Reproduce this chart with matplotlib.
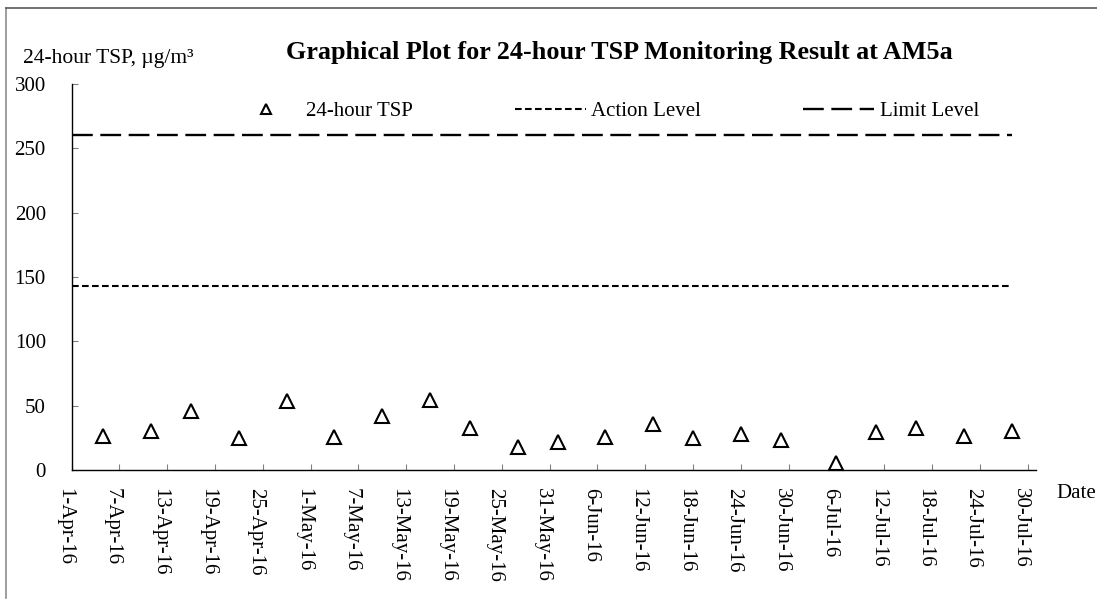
import matplotlib
matplotlib.use("Agg")
import matplotlib.pyplot as plt
from matplotlib.lines import Line2D
import matplotlib.transforms as mtransforms
import datetime as dt

# ---------------- data ----------------
sample_dates = ["2016-04-05", "2016-04-11", "2016-04-16", "2016-04-22", "2016-04-28",
                "2016-05-04", "2016-05-10", "2016-05-16", "2016-05-21", "2016-05-27",
                "2016-06-01", "2016-06-07", "2016-06-13", "2016-06-18", "2016-06-24",
                "2016-06-29", "2016-07-06", "2016-07-11", "2016-07-16", "2016-07-22",
                "2016-07-28"]
tsp_values = [26.7, 30.1, 46.2, 25.0, 53.4,
              25.8, 42.0, 54.6, 32.5, 17.6,
              21.9, 25.4, 35.9, 25.0, 28.1,
              23.4, 5.5, 29.2, 32.8, 26.4,
              30.7]
action_level = 143
limit_level = 260
level_dates = ["2016-04-01", "2016-07-28"]

tick_dates = ["2016-04-01", "2016-04-07", "2016-04-13", "2016-04-19", "2016-04-25",
              "2016-05-01", "2016-05-07", "2016-05-13", "2016-05-19", "2016-05-25",
              "2016-05-31", "2016-06-06", "2016-06-12", "2016-06-18", "2016-06-24",
              "2016-06-30", "2016-07-06", "2016-07-12", "2016-07-18", "2016-07-24",
              "2016-07-30"]
tick_labels = ["1-Apr-16", "7-Apr-16", "13-Apr-16", "19-Apr-16", "25-Apr-16",
               "1-May-16", "7-May-16", "13-May-16", "19-May-16", "25-May-16",
               "31-May-16", "6-Jun-16", "12-Jun-16", "18-Jun-16", "24-Jun-16",
               "30-Jun-16", "6-Jul-16", "12-Jul-16", "18-Jul-16", "24-Jul-16",
               "30-Jul-16"]
y_ticks = [0, 50, 100, 150, 200, 250, 300]
x_range = ["2016-04-01", "2016-07-31"]

title = "Graphical Plot for 24-hour TSP Monitoring Result at AM5a"
y_label = "24-hour TSP, \u00b5g/m\u00b3"
x_label = "Date"
legend_labels = ["24-hour TSP", "Action Level", "Limit Level"]

# ---------------- style ----------------
plt.rcParams['font.family'] = ['Liberation Serif', 'DejaVu Serif']
FS = 15

def to_d(s):
    return dt.datetime.strptime(s, "%Y-%m-%d")

fig = plt.figure(figsize=(10.97, 6.09), dpi=100)
ax = fig.add_axes([0.0652, 0.2282, 0.8788, 0.634])

xd = [to_d(s) for s in sample_dates]
ld = [to_d(s) for s in level_dates]

action_dash = (3.2, 1.6)
limit_dash = (8.8, 3.2)

ax.plot(ld, [limit_level, limit_level], color='black', lw=1.7,
        dashes=limit_dash, dash_capstyle='butt')
ax.plot(ld, [action_level, action_level], color='black', lw=1.5,
        dashes=action_dash, dash_capstyle='butt')
ax.plot(xd, tsp_values, linestyle='none', marker='^', markersize=10,
        markerfacecolor='white', markeredgecolor='black', markeredgewidth=1.5,
        clip_on=False, zorder=5)

ax.set_xlim(to_d(x_range[0]), to_d(x_range[1]))
ax.set_ylim(0, 300)
ax.set_yticks(y_ticks)
ax.set_yticklabels([str(v) for v in y_ticks], fontsize=FS)
ax.set_xticks([to_d(s) for s in tick_dates])
ax.set_xticklabels([])

# rotated date labels, slightly left of each tick (as in the reference)
lab_tr = ax.get_xaxis_transform() + mtransforms.ScaledTranslation(
    -7 / 100, -18 / 100, fig.dpi_scale_trans)
for d, lab in zip(tick_dates, tick_labels):
    ax.text(to_d(d), 0, lab, transform=lab_tr, rotation=-90, fontsize=FS,
            ha='center', va='top', clip_on=False)

for s in ['top', 'right']:
    ax.spines[s].set_visible(False)
for s in ['left', 'bottom']:
    ax.spines[s].set_linewidth(1.0)
    ax.spines[s].set_color('black')

ax.tick_params(axis='y', direction='in', length=4, width=0.8, color='#808080', pad=18.5)
ax.tick_params(axis='x', direction='in', length=4, width=0.8, color='#808080', pad=13)

# texts
fig.text(619 / 1097, 1 - 53 / 609, title, fontsize=18.8, fontweight='bold',
         ha='center', va='center')
fig.text(23 / 1097, 1 - 58 / 609, y_label, fontsize=15.5, ha='left', va='center')
fig.text(1056 / 1097, 1 - 493 / 609, x_label, fontsize=FS, ha='left', va='center')

# legend
h1 = Line2D([], [], linestyle='none', marker='^', markersize=6.5,
            markerfacecolor='white', markeredgecolor='black', markeredgewidth=1.5)
h2 = Line2D([], [], color='black', lw=1.5, dashes=action_dash)
h3 = Line2D([], [], color='black', lw=1.7, dashes=limit_dash)
leg = fig.legend([h1, h2, h3], legend_labels, ncol=3, loc='center left',
                 bbox_to_anchor=(230 / 1097, 1 - 111.5 / 609), frameon=False,
                 fontsize=FS, handlelength=3.41, handletextpad=0.25,
                 columnspacing=4.9, borderpad=0, borderaxespad=0, numpoints=1)

# outer frame (gray)
fig.add_artist(Line2D([6 / 1097, 6 / 1097], [1 - 598 / 609, 1 - 7.5 / 609],
                      transform=fig.transFigure, color='#8c8c8c', lw=1.2))
fig.add_artist(Line2D([6 / 1097, 1.0], [1 - 7.5 / 609, 1 - 7.5 / 609],
                      transform=fig.transFigure, color='#595959', lw=1.2))

fig.savefig("out.png", dpi=100)
